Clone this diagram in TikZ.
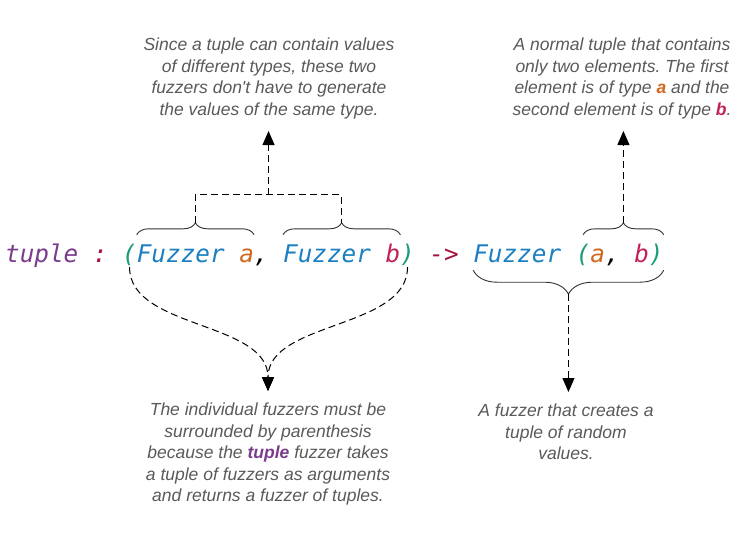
\documentclass[tikz,border=0pt]{standalone}
\usepackage{fontspec}
\usetikzlibrary{arrows.meta,decorations.pathreplacing,calc}
\newfontfamily\codefont{DejaVu Sans Mono}
\newfontfamily\notefont{Liberation Sans}
\definecolor{cTup}{HTML}{7B3C8C}
\definecolor{cOp}{HTML}{A3133B}
\definecolor{cPar}{HTML}{1A9C7A}
\definecolor{cFz}{HTML}{1B7FC2}
\definecolor{cA}{HTML}{D2661E}
\definecolor{cB}{HTML}{C0235B}
\definecolor{cNote}{HTML}{5A5A5A}
\frenchspacing
\begin{document}
\begin{tikzpicture}[x=1pt,y=-1pt,>={Triangle[length=14pt,width=12pt]},line join=round]
	\tikzset{code/.style={font=\codefont\itshape\fontsize{24.3}{28}\selectfont, inner sep=0pt, anchor=base west, text height=18pt, text depth=5pt},
		note/.style={font=\notefont\itshape\fontsize{17.5}{21.5}\selectfont, text=cNote, align=center, inner xsep=0pt, inner ysep=12pt},
		brc/.style={decorate, decoration={brace,amplitude=12pt}, draw=black!80, line width=.9pt},
		dsh/.style={dash pattern=on 7pt off 4pt, line width=1pt}}
	\def\cw{14.63}
	\path[use as bounding box, fill=white] (0,0) rectangle (737,535);
	% the signature, one node per token
	\foreach \i/\txt/\col/\nm in {0/tuple/cTup/tup, 6/:/cOp/col, 8/{(}/cPar/lp, 9/Fuzzer/cFz/fza, 16/a/cA/va, 17/{,}/black/cma, 19/Fuzzer/cFz/fzb, 26/b/cB/vb, 27/{)}/cPar/rp, 29/->/cOp/arr, 32/Fuzzer/cFz/fzr, 39/{(}/cPar/lpr, 40/a/cA/ra, 41/{,}/black/cmr, 43/b/cB/rb, 44/{)}/cPar/rpr}
	\node[code, text=\col] (\nm) at (5+\i*\cw,262) {\txt};
	
	\node[note, anchor=south] (notediff) at (269,131) {Since a tuple can contain values\\ of different types, these two\\ fuzzers don't have to generate\\ the values of the same type.};
	\node[note, anchor=south] (notepair) at (622,131) {A normal tuple that contains\\ only two elements. The first\\ element is of type \textbf{\textcolor{cA}{a}} and the\\ second element is of type \textbf{\textcolor{cB}{b}}.};
	\node[note, anchor=north] (noteparen) at (268,391) {The individual fuzzers must be\\ surrounded by parenthesis\\ because the \textbf{\textcolor{cTup}{tuple}} fuzzer takes\\ a tuple of fuzzers as arguments\\ and returns a fuzzer of tuples.};
	\node[note, anchor=north] (noteresult) at (566,392) {A fuzzer that creates a\\ tuple of random\\ values.};
	
	\draw[brc] ([yshift=9pt]fza.north west) -- ([yshift=9pt]va.north east);
	\draw[brc] ([yshift=9pt]fzb.north west) -- ([yshift=9pt]vb.north east);
	\draw[brc] ([yshift=9pt]lpr.north) -- ([yshift=9pt]rpr.north east);
	\draw[brc, decoration={amplitude=24pt}] ([yshift=-3pt]rpr.south east) -- ([yshift=-3pt]fzr.south west);
	
	\coordinate (tipa) at ($(fza.north west)!.5!(va.north east)+(0,-21)$);
	\coordinate (tipb) at ($(fzb.north west)!.5!(vb.north east)+(0,-21)$);
	\coordinate (tipr) at ($(lpr.north)!.5!(rpr.north east)+(0,-21)$);
	\coordinate (tipd) at ($(fzr.south west)!.5!(rpr.south east)+(0,27)$);
	\coordinate (join) at ($(tipa)!.5!(tipb)+(0,-28)$);
	
	\draw[dsh] (tipa) |- (join) -| (tipb);
	\draw[dsh,->] (join) -- (join |- notediff.south);
	\draw[dsh,->] (tipr) -- (tipr |- notepair.south);
	\draw[dsh,->] (tipd) -- (tipd |- noteresult.north);
	\draw[dsh,->] (lp.south) .. controls +(0,62) and +(0,-70) .. (noteparen.north);
	\draw[dsh,->] (rp.south) .. controls +(0,62) and +(0,-70) .. (noteparen.north);
\end{tikzpicture}
\end{document}
